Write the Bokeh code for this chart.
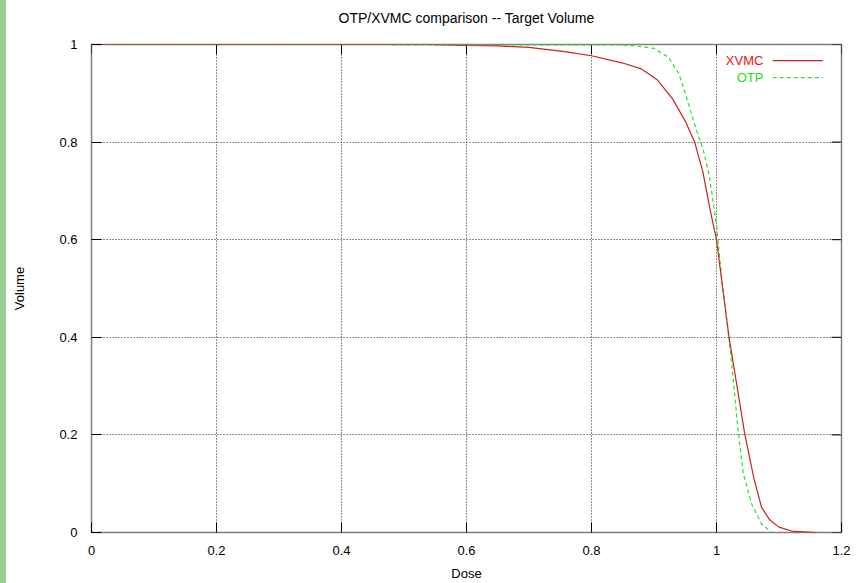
from bokeh.plotting import figure
from bokeh.models import Range1d, FixedTicker, Div, ColumnDataSource
from bokeh.layouts import row
from bokeh.embed import file_html
from bokeh.resources import INLINE
from bokeh.core.properties import value

# ---- data ----
xvmc_dose = [0.0, 0.54, 0.6, 0.65, 0.7, 0.76, 0.8, 0.85, 0.88, 0.905, 0.93, 0.95, 0.965,
             0.978, 0.99, 1.0, 1.01, 1.02, 1.03, 1.045, 1.06, 1.072, 1.085, 1.1, 1.12, 1.16]
xvmc_vol = [1.0, 1.0, 0.998, 0.997, 0.994, 0.985, 0.977, 0.962, 0.95, 0.928, 0.888, 0.843, 0.80,
            0.74, 0.66, 0.60, 0.50, 0.40, 0.322, 0.203, 0.11, 0.052, 0.026, 0.011, 0.003, 0.0]
otp_dose = [0.0, 0.85, 0.87, 0.9, 0.923, 0.94, 0.955, 0.968, 0.979, 0.989, 1.0, 1.004,
            1.01, 1.02, 1.027, 1.035, 1.043, 1.056, 1.072, 1.088]
otp_vol = [1.0, 0.999, 0.997, 0.992, 0.974, 0.94, 0.879, 0.824, 0.783, 0.727, 0.63, 0.578,
           0.50, 0.40, 0.311, 0.203, 0.12, 0.059, 0.018, 0.0]
x_ticks = [0, 0.2, 0.4, 0.6, 0.8, 1.0, 1.2]
x_tick_labels = ["0", "0.2", "0.4", "0.6", "0.8", "1", "1.2"]
y_ticks = [0, 0.2, 0.4, 0.6, 0.8, 1.0]
y_tick_labels = ["0", "0.2", "0.4", "0.6", "0.8", "1"]
series_names = ["XVMC", "OTP"]
title_text = "OTP/XVMC comparison -- Target Volume"

FONT = "Liberation Sans"
RED = "#cc2222"
GREEN = "#33dd33"
X_MAX = 1.2
Y_MAX = 1.0

p = figure(width=851, height=583, x_range=Range1d(0, X_MAX), y_range=Range1d(0, Y_MAX),
           output_backend="svg", toolbar_location=None,
           title=title_text + "\n",
           min_border_left=85, min_border_right=16, min_border_top=44, min_border_bottom=51,
           background_fill_color="white", border_fill_color="white", margin=0)
p.title.align = "center"
p.title.text_font = FONT
p.title.text_font_size = "14px"
p.title.text_font_style = "normal"
p.title.text_color = "black"
p.title.standoff = 6

p.outline_line_color = "#808080"
p.outline_line_width = 1.5

p.xaxis.ticker = FixedTicker(ticks=x_ticks)
p.yaxis.ticker = FixedTicker(ticks=y_ticks)
p.xaxis.major_label_overrides = {t: l for t, l in zip(x_ticks, x_tick_labels)}
p.yaxis.major_label_overrides = {t: l for t, l in zip(y_ticks, y_tick_labels)}
for ax in (p.xaxis, p.yaxis):
    ax.axis_line_color = None
    ax.major_tick_in = 10
    ax.major_tick_out = 0
    ax.minor_tick_line_color = None
    ax.major_tick_line_color = "black"
    ax.major_label_text_font = FONT
    ax.major_label_text_font_size = "13px"
    ax.major_label_text_color = "black"
    ax.axis_label_text_font = FONT
    ax.axis_label_text_font_size = "13px"
    ax.axis_label_text_font_style = "normal"
    ax.axis_label_text_color = "black"
p.xaxis.axis_label = "Dose"
p.yaxis.axis_label = "Volume"
p.xaxis.major_label_standoff = 13
p.yaxis.major_label_standoff = 14
p.xaxis.axis_label_standoff = 8
p.yaxis.axis_label_standoff = 29

p.xgrid.ticker = FixedTicker(ticks=x_ticks[1:-1])
p.ygrid.ticker = FixedTicker(ticks=y_ticks[1:-1])
for g in (p.xgrid, p.ygrid):
    g.grid_line_color = "#222222"
    g.grid_line_dash = "1 2"
    g.grid_line_width = 1

# mirrored tick marks on the right and top edges (gnuplot style)
p.segment(x0=[X_MAX - 0.016] * len(y_ticks), y0=y_ticks, x1=[X_MAX] * len(y_ticks), y1=y_ticks,
          line_color="black", line_width=1)
p.segment(x0=x_ticks, y0=[Y_MAX - 0.02] * len(x_ticks), x1=x_ticks, y1=[Y_MAX] * len(x_ticks),
          line_color="black", line_width=1)

src_x = ColumnDataSource(dict(x=xvmc_dose, y=xvmc_vol))
src_o = ColumnDataSource(dict(x=otp_dose, y=otp_vol))
p.line("x", "y", source=src_o, line_color=GREEN, line_width=1.2, line_dash="4 3")
p.line("x", "y", source=src_x, line_color=RED, line_width=1.2)

# gnuplot-style key (text right-aligned, sample on right)
key_y = [0.967, 0.932]
p.text(x=[1.075, 1.075], y=key_y, text=series_names, text_color=["#ee1111", "#22dd22"],
       text_align="right", text_baseline="middle", text_font=value(FONT),
       text_font_size="13px")
p.segment(x0=[1.09], y0=[key_y[0]], x1=[1.17], y1=[key_y[0]], line_color=RED, line_width=1.2)
p.segment(x0=[1.09], y0=[key_y[1]], x1=[1.17], y1=[key_y[1]], line_color=GREEN,
          line_width=1.2, line_dash="4 3")

bar = Div(width=6, height=583, margin=0, styles={"background-color": "#9ccb98"})
layout = row(bar, p, spacing=0)

open("out.html", "w").write(file_html(layout, INLINE))
